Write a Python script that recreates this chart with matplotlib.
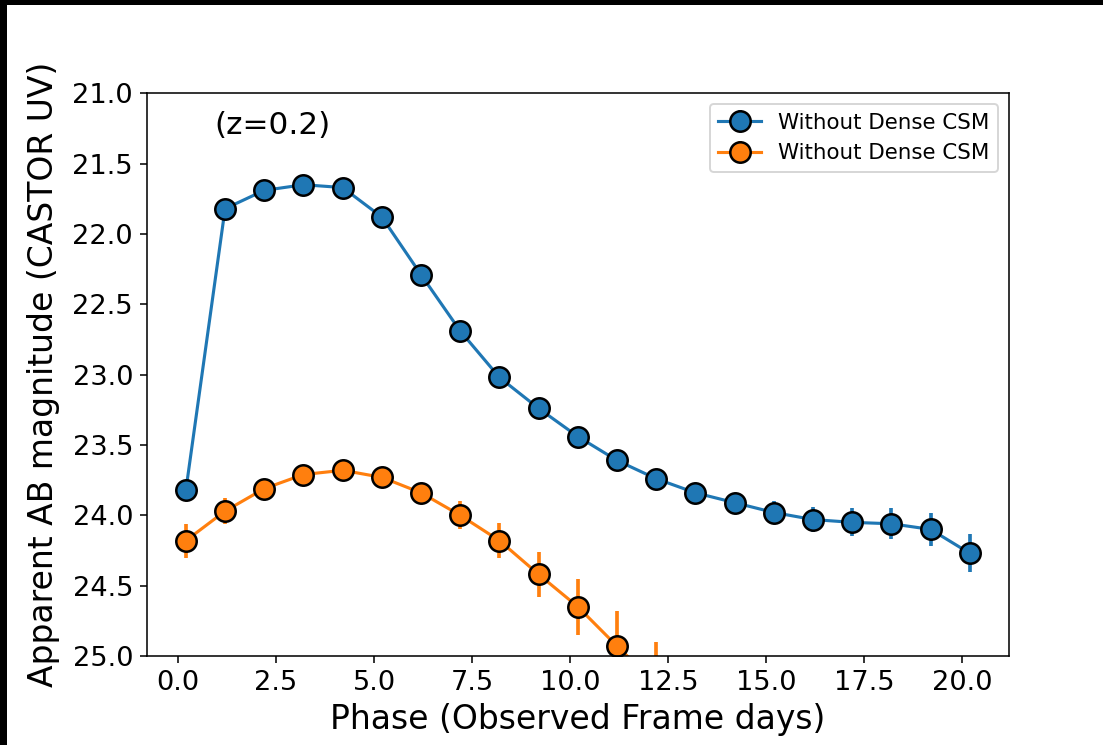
import matplotlib
matplotlib.use("Agg")
import matplotlib.pyplot as plt
from matplotlib.patches import Rectangle

# ---- data ----
phase = [0.2, 1.2, 2.2, 3.2, 4.2, 5.2, 6.2, 7.2, 8.2, 9.2, 10.2,
         11.2, 12.2, 13.2, 14.2, 15.2, 16.2, 17.2, 18.2, 19.2, 20.2]
mag_blue = [23.82, 21.82, 21.69, 21.65, 21.67, 21.88, 22.29, 22.69, 23.02, 23.24, 23.44,
            23.61, 23.74, 23.84, 23.91, 23.98, 24.03, 24.05, 24.06, 24.10, 24.27]
err_blue = [0.02, 0.02, 0.02, 0.02, 0.02, 0.02, 0.02, 0.03, 0.03, 0.04, 0.04,
            0.05, 0.05, 0.06, 0.07, 0.08, 0.09, 0.10, 0.11, 0.12, 0.135]

phase_orange = [0.2, 1.2, 2.2, 3.2, 4.2, 5.2, 6.2, 7.2, 8.2, 9.2, 10.2, 11.2, 12.2]
mag_orange = [24.18, 23.97, 23.81, 23.71, 23.68, 23.73, 23.84, 24.00, 24.18, 24.42, 24.65, 24.93, 25.20]
err_orange = [0.12, 0.09, 0.07, 0.06, 0.06, 0.06, 0.07, 0.10, 0.125, 0.16, 0.20, 0.25, 0.30]

label_blue = "Without Dense CSM"
label_orange = "Without Dense CSM"
annotation = "(z=0.2)"
xlabel = "Phase (Observed Frame days)"
ylabel = "Apparent AB magnitude (CASTOR UV)"

DPI = 140
fig = plt.figure(figsize=(1103 / DPI, 745 / DPI), dpi=DPI)
fig.patch.set_facecolor("white")

ax = fig.add_axes([146.7 / 1103, 1 - 656 / 745, (1009 - 146.7) / 1103, (656 - 93.3) / 745])

common = dict(fmt="-o", ms=10.5, mec="black", mew=1.3, lw=1.6, elinewidth=1.9, capsize=0)
ax.errorbar(phase, mag_blue, yerr=err_blue, color="#1f77b4", label=label_blue, **common)
ax.errorbar(phase_orange, mag_orange, yerr=err_orange, color="#ff7f0e", label=label_orange, **common)

ax.set_ylim(25.0, 21.0)
ax.set_xlim(-0.8, 21.2)
ax.set_xticks([0, 2.5, 5, 7.5, 10, 12.5, 15, 17.5, 20])
ax.set_yticks([21.0, 21.5, 22.0, 22.5, 23.0, 23.5, 24.0, 24.5, 25.0])
ax.tick_params(labelsize=14)
ax.set_xlabel(xlabel, fontsize=17)
ax.set_ylabel(ylabel, fontsize=17, labelpad=6.5)
ax.text(0.93, 21.23, annotation, fontsize=16, va="center", ha="left")
ax.legend(loc="upper right", fontsize=11)

# dark screenshot border
fig.patches.append(Rectangle((0, 0), 7 / 1103, 1, transform=fig.transFigure,
                             facecolor="black", edgecolor="none", zorder=10))
fig.patches.append(Rectangle((0, 1 - 5 / 745), 1, 5 / 745, transform=fig.transFigure,
                             facecolor="black", edgecolor="none", zorder=10))

fig.savefig("out.png", dpi=DPI)
